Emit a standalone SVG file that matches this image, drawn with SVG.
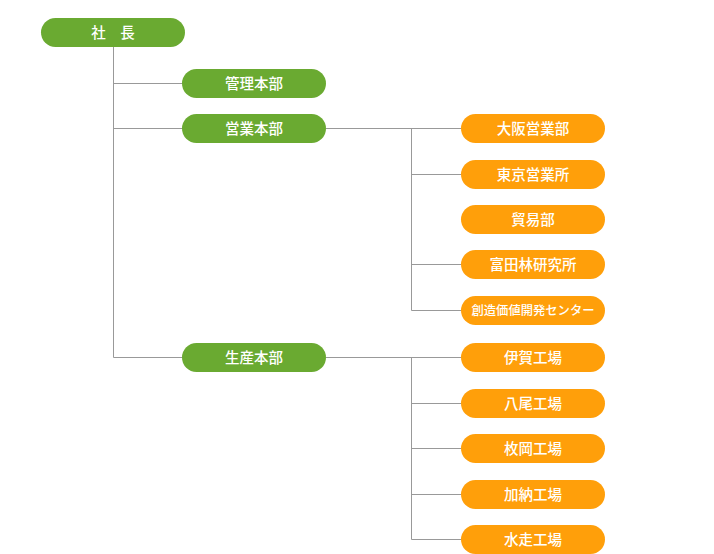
<svg xmlns="http://www.w3.org/2000/svg" width="714" height="554" viewBox="0 0 714 554">
<style>
.g{fill:#6aaa31}
.o{fill:#ff9f0a}
.t{fill:#fff;font-family:"Noto Sans CJK JP","Noto Sans CJK SC",sans-serif;font-size:14.5px;font-weight:500;text-anchor:middle;dominant-baseline:central}
.s{font-size:12.3px}
.c{stroke:#999;stroke-width:1;fill:none}
</style>
<rect width="714" height="554" fill="#fff"/>
<g id="connectors" class="c">
<path d="M113.5 47V357.5M113.5 83.5H182M113.5 128.5H182M113.5 357.5H182"/>
<path d="M326 128.5H461M411.5 128.5V310.5M411.5 174.5H461M411.5 264.5H461M411.5 310.5H461"/>
<path d="M326 357.5H461M411.5 357.5V539.5M411.5 403.5H461M411.5 448.5H461M411.5 494.5H461M411.5 539.5H461"/>
</g>
<g id="president"><rect class="g" x="41" y="18" width="144" height="29" rx="14.5"/><text class="t" x="113" y="31.5">社　長</text></g>
<g id="kanri"><rect class="g" x="182" y="69" width="144" height="29" rx="14.5"/><text class="t" x="254" y="82.5">管理本部</text></g>
<g id="eigyo"><rect class="g" x="182" y="114" width="144" height="29" rx="14.5"/><text class="t" x="254" y="127.5">営業本部</text></g>
<g id="seisan"><rect class="g" x="182" y="343" width="144" height="29" rx="14.5"/><text class="t" x="254" y="356.5">生産本部</text></g>
<g id="osaka"><rect class="o" x="461" y="114" width="144" height="29" rx="14.5"/><text class="t" x="533" y="127.5">大阪営業部</text></g>
<g id="tokyo"><rect class="o" x="461" y="160" width="144" height="29" rx="14.5"/><text class="t" x="533" y="173.5">東京営業所</text></g>
<g id="boeki"><rect class="o" x="461" y="205" width="144" height="29" rx="14.5"/><text class="t" x="533" y="218.5">貿易部</text></g>
<g id="tondabayashi"><rect class="o" x="461" y="250" width="144" height="29" rx="14.5"/><text class="t" x="533" y="263.5">富田林研究所</text></g>
<g id="sozo"><rect class="o" x="461" y="296" width="144" height="29" rx="14.5"/><text class="t s" x="533" y="309.5">創造価値開発センター</text></g>
<g id="iga"><rect class="o" x="461" y="343" width="144" height="29" rx="14.5"/><text class="t" x="533" y="356.5">伊賀工場</text></g>
<g id="yao"><rect class="o" x="461" y="389" width="144" height="29" rx="14.5"/><text class="t" x="533" y="402.5">八尾工場</text></g>
<g id="hiraoka"><rect class="o" x="461" y="434" width="144" height="29" rx="14.5"/><text class="t" x="533" y="447.5">枚岡工場</text></g>
<g id="kano"><rect class="o" x="461" y="480" width="144" height="29" rx="14.5"/><text class="t" x="533" y="493.5">加納工場</text></g>
<g id="mizuhai"><rect class="o" x="461" y="525" width="144" height="29" rx="14.5"/><text class="t" x="533" y="538.5">水走工場</text></g>
</svg>
